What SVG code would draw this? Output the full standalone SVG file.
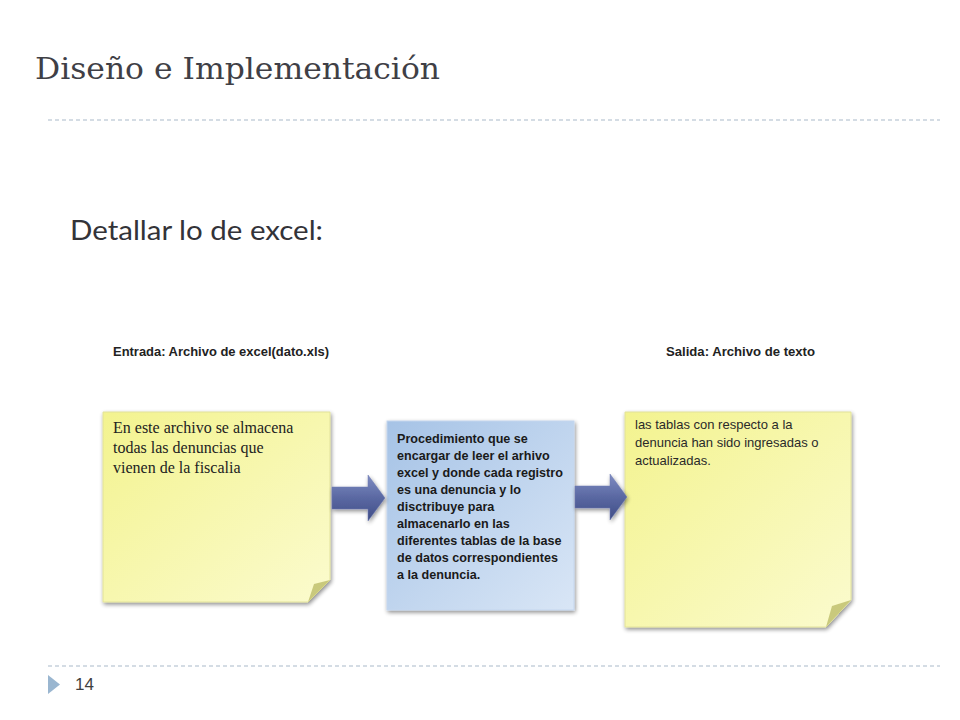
<svg xmlns="http://www.w3.org/2000/svg" width="960" height="720" viewBox="0 0 960 720">
<style>
.dash{stroke:#a9b9c9;stroke-width:1;stroke-dasharray:4 3;fill:none}
.title{font-family:"DejaVu Serif","Liberation Serif",serif;font-size:30px;fill:#3f3f46}
.sub{font-family:"Lato","Open Sans",sans-serif;font-size:27px;fill:#333338}
.lbl{font-family:"Liberation Sans",Arial,sans-serif;font-size:12px;font-weight:bold;fill:#222}
.ser{font-family:"Liberation Serif","Times New Roman",serif;font-size:16px;fill:#222}
.mid{font-family:"Liberation Sans",Arial,sans-serif;font-size:12.6px;font-weight:bold;fill:#1a1a1a}
.rt{font-family:"Liberation Sans",Arial,sans-serif;font-size:13px;fill:#2a2a2a}
.num{font-family:"Liberation Sans",Arial,sans-serif;font-size:17px;fill:#404040}
.fold{fill:#c9c97c}
.arrow{fill:url(#ag);stroke:#6d7ab0;stroke-width:0.5}
</style>
<defs>
<linearGradient id="yg" x1="0" y1="0" x2="1" y2="1">
<stop offset="0" stop-color="#f3f38f"/>
<stop offset="1" stop-color="#fbfbce"/>
</linearGradient>
<linearGradient id="bg" x1="0" y1="0" x2="1" y2="1">
<stop offset="0" stop-color="#a6c3e6"/>
<stop offset="1" stop-color="#d9e6f6"/>
</linearGradient>
<linearGradient id="ag" x1="0" y1="0" x2="0" y2="1">
<stop offset="0" stop-color="#7f8cc2"/>
<stop offset="0.5" stop-color="#5a68a2"/>
<stop offset="1" stop-color="#3f4c86"/>
</linearGradient>
<filter id="sh" x="-10%" y="-10%" width="125%" height="125%">
<feGaussianBlur in="SourceAlpha" stdDeviation="2"/>
<feOffset dx="1" dy="2" result="b"/>
<feComponentTransfer><feFuncA type="linear" slope="0.45"/></feComponentTransfer>
<feMerge><feMergeNode/><feMergeNode in="SourceGraphic"/></feMerge>
</filter>
</defs>
<rect width="960" height="720" fill="#ffffff"/>
<g id="header">
<text class="title" x="35" y="79" textLength="405" lengthAdjust="spacingAndGlyphs">Diseño e Implementación</text>
<line class="dash" x1="48" y1="120" x2="940" y2="120"/>
<text class="sub" x="70" y="240" textLength="253" lengthAdjust="spacingAndGlyphs">Detallar lo de excel:</text>
<text class="lbl" x="113" y="356" textLength="216" lengthAdjust="spacingAndGlyphs">Entrada: Archivo de excel(dato.xls)</text>
<text class="lbl" x="666" y="356" textLength="149" lengthAdjust="spacingAndGlyphs">Salida: Archivo de texto</text>
</g>
<g id="entrada">
<path d="M103 412 H330 V580 L308 602 H103 Z" fill="url(#yg)" stroke="#e2e29a" stroke-width="1" filter="url(#sh)"/>
<path class="fold" d="M308 602 L314 584 L330 580 Z"/>
<text class="ser"><tspan x="113" y="433">En este archivo se almacena</tspan><tspan x="113" y="453">todas las denuncias que</tspan><tspan x="113" y="473">vienen de la fiscalia</tspan></text>
</g>
<g id="procedimiento">
<rect x="387" y="421" width="187" height="189" fill="url(#bg)" stroke="#c4d6ee" stroke-width="1" filter="url(#sh)"/>
<text class="mid">
<tspan x="397" y="443">Procedimiento que se</tspan>
<tspan x="397" y="460">encargar de leer el arhivo</tspan>
<tspan x="397" y="477">excel y donde cada registro</tspan>
<tspan x="397" y="494">es una denuncia y lo</tspan>
<tspan x="397" y="511">disctribuye para</tspan>
<tspan x="397" y="528">almacenarlo en las</tspan>
<tspan x="397" y="545">diferentes tablas de la base</tspan>
<tspan x="397" y="562">de datos correspondientes</tspan>
<tspan x="397" y="579">a la denuncia.</tspan>
</text>
</g>
<g id="salida">
<path d="M625 412 H851 V600 L826 627 H625 Z" fill="url(#yg)" stroke="#e2e29a" stroke-width="1" filter="url(#sh)"/>
<path class="fold" d="M826 627 L832 606 L851 600 Z"/>
<text class="rt">
<tspan x="635" y="429">las tablas con respecto a la</tspan>
<tspan x="635" y="447">denuncia han sido ingresadas o</tspan>
<tspan x="635" y="465">actualizadas.</tspan>
</text>
</g>
<g id="connectors">
<path class="arrow" d="M332 487 H368 V475 L385 498 L368 521 V509 H332 Z" filter="url(#sh)"/>
<path class="arrow" d="M575 486 H610 V474 L627 497 L610 520 V508 H575 Z" filter="url(#sh)"/>
</g>
<g id="footer">
<line class="dash" x1="48" y1="666" x2="940" y2="666"/>
<path d="M48 675 L60 684.5 L48 694 Z" fill="#9ab6d0"/>
<text class="num" x="75" y="690">14</text>
</g>
</svg>
